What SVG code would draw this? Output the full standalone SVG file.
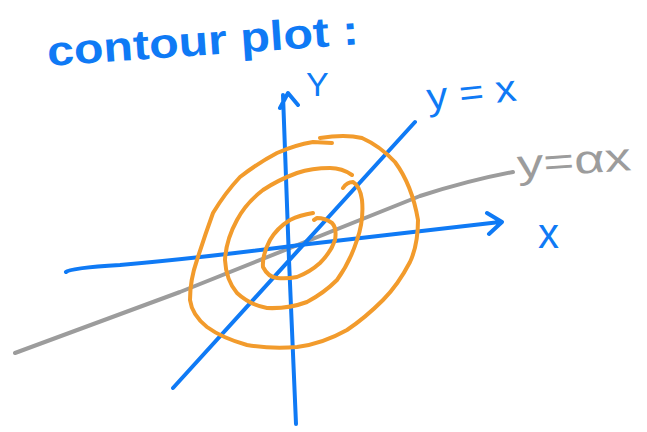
<svg xmlns="http://www.w3.org/2000/svg" width="647" height="432" viewBox="0 0 647 432">
<style>
.b{fill:none;stroke:#0f7af5;stroke-width:4;stroke-linecap:round;stroke-linejoin:round}
.o{fill:none;stroke:#f29b2c;stroke-width:4;stroke-linecap:round;stroke-linejoin:round}
.g{fill:none;stroke:#9c9c9c;stroke-width:4;stroke-linecap:round;stroke-linejoin:round}
.tb{fill:#0f7af5;font-family:"Liberation Sans",sans-serif}
.tg{fill:#9c9c9c;font-family:"Liberation Sans",sans-serif}
</style>
<rect width="647" height="432" fill="#fff"/>
<g id="title"><text class="tb" x="48" y="66" font-size="42" font-weight="bold" textLength="312" lengthAdjust="spacingAndGlyphs" transform="rotate(-4 48 66)">contour plot :</text></g>
<g id="connectors">
<path id="gray-line" class="g" d="M15,353 L180,292 L420,196 Q470,180 513,172"/>
<path id="x-axis" class="b" d="M66,272 Q70,268 120,265 Q200,258 300,245 L500,222 M487,213 L502,222 L489,234"/>
<path id="y-axis" class="b" d="M296,424 L289,260 L283,95 M280,108 L288,93 L298,105"/>
<path id="yx-line" class="b" d="M173,388 L415,122"/>
</g>
<g id="contours">
<path class="o" d="M320,138 Q345,134 362,138 Q380,146 395,162 Q412,185 418,220 Q418,245 410,262 Q398,285 383,300 Q365,318 347,330 Q322,344 297,347 Q270,349 247,345 Q222,338 207,327 Q192,315 190,300 Q190,280 197,260 Q205,235 213,213 Q225,193 240,177 Q258,163 277,153 Q295,145 313,142 L332,143"/>
<path class="o" d="M352,175 Q342,168 330,168 Q312,168 297,173 Q278,180 263,190 Q246,203 237,220 Q226,240 225,260 Q226,280 237,293 Q250,305 267,308 Q288,309 307,302 Q324,293 337,280 Q350,262 357,240 Q364,220 362,200 Q360,186 353,182 Q347,182 343,188"/>
<path class="o" d="M313,213 Q300,215 290,220 Q277,228 270,240 Q262,255 263,267 Q268,277 277,278 Q287,279 297,277 Q310,272 320,263 Q331,252 335,240 Q337,228 332,223 Q325,218 317,218 L314,220"/>
</g>
<g id="label-y"><text class="tb" x="306" y="96" font-size="34">Y</text></g>
<g id="label-yx"><text class="tb" x="428" y="110" font-size="38" textLength="90" lengthAdjust="spacingAndGlyphs" transform="rotate(-6 428 110)">y = x</text></g>
<g id="label-yax"><text class="tg" x="518" y="178" font-size="40" textLength="114" lengthAdjust="spacingAndGlyphs" transform="rotate(-4 518 178)">y=αx</text></g>
<g id="label-x"><text class="tb" x="538" y="248" font-size="42">x</text></g>
</svg>
